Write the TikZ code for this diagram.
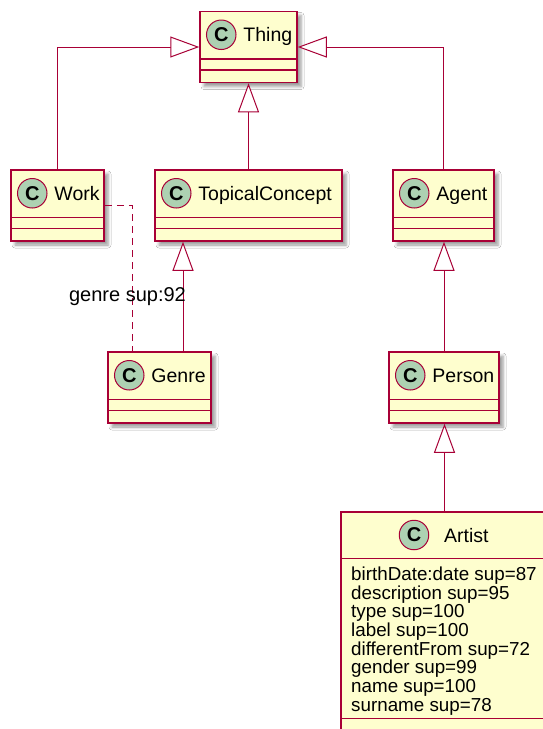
\documentclass[tikz,border=0pt]{standalone}
\usepackage{fontspec}
\setmainfont{Liberation Sans}
\usetikzlibrary{arrows.meta,shadows.blur}
\definecolor{umlborder}{HTML}{A80036}
\definecolor{umlfill}{HTML}{FEFECE}
\definecolor{umlcirc}{HTML}{ADD1B2}
\tikzset{
  cls/.style={draw=umlborder, fill=umlfill, line width=1.5pt, inner sep=0pt, minimum height=71pt,
    blur shadow={shadow xshift=4pt, shadow yshift=-4pt, shadow blur radius=3pt, shadow opacity=40}},
  sepline/.style={draw=umlborder, line width=1.5pt},
  cmark/.style={circle, draw=umlborder, fill=umlcirc, line width=1pt, minimum size=29.5pt, inner sep=0pt,
    font=\fontsize{20}{20}\selectfont\bfseries},
  cname/.style={anchor=base west, inner sep=0pt, font=\fontsize{19.5}{20}\selectfont},
  gen/.style={draw=umlborder, line width=1pt, -{Triangle[length=29pt, width=21pt, fill=white]}},
  dep/.style={draw=umlborder, line width=1pt, dash pattern=on 7pt off 5pt},
  lbl/.style={inner sep=0pt, font=\fontsize{20}{22}\selectfont},
  attr/.style={anchor=north west, inner sep=0pt, align=left, font=\fontsize{18.8}{18.7}\selectfont},
}
\newcommand\classseps[1]{%
  \draw[sepline] ([yshift=-48pt]#1.north west) -- ([yshift=-48pt]#1.north east);
  \draw[sepline] ([yshift=-59pt]#1.north west) -- ([yshift=-59pt]#1.north east);}
\newcommand\classhead[2]{%
  \node[cmark] (#1c) at ([xshift=22pt,yshift=-24pt]#1.north west) {C};
  \node[cname] (#1t) at ([xshift=22pt,yshift=-7pt]#1c.center) {#2};}
\begin{document}
\begin{tikzpicture}[x=1pt, y=-1pt]
\path[fill=white] (0,0) rectangle (543,729);
\useasboundingbox (0,0) rectangle (543,729);

% classes
\node[cls, minimum width=97pt] (thing) at (248.5,47) {};
\classseps{thing}\classhead{thing}{Thing}
\node[cls, minimum width=93pt] (work) at (57.5,205.5) {};
\classseps{work}\classhead{work}{Work}
\node[cls, minimum width=187pt] (tc) at (248.5,205.5) {};
\classseps{tc}\classhead{tc}{TopicalConcept}
\node[cls, minimum width=101pt] (agent) at (443.5,205.5) {};
\classseps{agent}\classhead{agent}{Agent}
\node[cls, minimum width=103pt] (genre) at (159.5,387.5) {};
\classseps{genre}\classhead{genre}{Genre}
\node[cls, minimum width=110pt] (person) at (444,387.5) {};
\classseps{person}\classhead{person}{Person}

\node[cls, minimum width=207pt, minimum height=233pt] (artist) at (444.5,628.5) {};
\draw[sepline] ([yshift=-47pt]artist.north west) -- ([yshift=-47pt]artist.north east);
\draw[sepline] ([yshift=-207pt]artist.north west) -- ([yshift=-207pt]artist.north east);
\node[cmark] (artistc) at (414,535) {C};
\node[cname] (artistt) at ([xshift=30pt,yshift=-7pt]artistc.center) {Artist};
\node[attr] (artista) at (351,566.5) {birthDate:date sup=87\\description sup=95\\type sup=100\\label sup=100\\differentFrom sup=72\\gender sup=99\\name sup=100\\surname sup=78};

% connectors
\coordinate (gx) at (183,0);
\coordinate (dx) at (132,0);
\draw[gen] (work.north) |- (thing.west);
\draw[gen] (agent.north) |- (thing.east);
\draw[gen] (tc.north) -- (thing.south);
\draw[gen] (genre.north -| gx) -- (gx |- tc.south);
\draw[gen] (person.north) -- (person.north |- agent.south);
\draw[gen] (artist.north) -- (artist.north |- person.south);
\draw[dep] (work.east) -| (dx |- genre.north);
\node[lbl] (genrelbl) at (127.5,297) {genre sup:92};
\end{tikzpicture}
\end{document}
